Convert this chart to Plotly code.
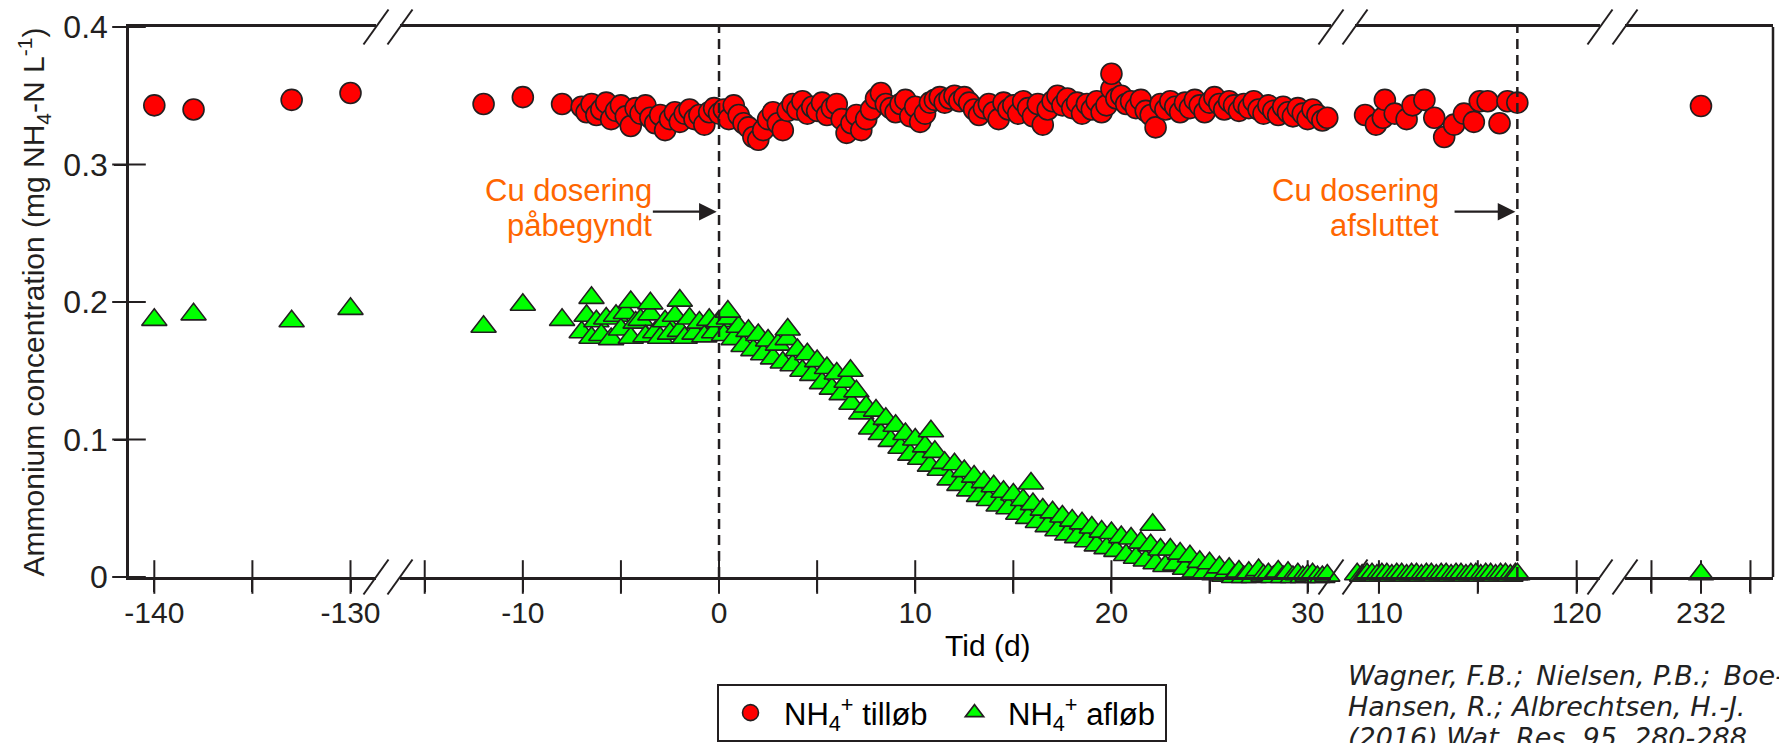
import plotly.graph_objects as go

# ---------------- data ----------------
# segment 1 (-141 .. -129)
s1_days = [-140, -138, -133, -130]
s1_inflow = [0.343, 0.340, 0.347, 0.352]
s1_outflow = [0.187, 0.191, 0.186, 0.195]

# segment 2 (-16 .. 31) sparse points before the dense campaign
s2_sparse_days = [-12, -10, -8]
s2_sparse_inflow = [0.344, 0.349, 0.344]
s2_sparse_outflow = [0.182, 0.198, 0.187]

# dense campaign, days -7 .. 31
s2_days = [
    -7.0, -6.75, -6.5, -6.25, -6.0, -5.75, -5.5, -5.25, -5.0, -4.75, -4.5, -4.25,
    -4.0, -3.75, -3.5, -3.25, -3.0, -2.75, -2.5, -2.25, -2.0, -1.75, -1.5, -1.25,
    -1.0, -0.75, -0.5, -0.25, 0.0, 0.25, 0.5, 0.75, 1.0, 1.25, 1.5, 1.75,
    2.0, 2.25, 2.5, 2.75, 3.0, 3.25, 3.5, 3.75, 4.0, 4.25, 4.5, 4.75,
    5.0, 5.25, 5.5, 5.75, 6.0, 6.25, 6.5, 6.75, 7.0, 7.25, 7.5, 7.75,
    8.0, 8.25, 8.5, 8.75, 9.0, 9.25, 9.5, 9.75, 10.0, 10.25, 10.5, 10.75,
    11.0, 11.25, 11.5, 11.75, 12.0, 12.25, 12.5, 12.75, 13.0, 13.25, 13.5, 13.75,
    14.0, 14.25, 14.5, 14.75, 15.0, 15.25, 15.5, 15.75, 16.0, 16.25, 16.5, 16.75,
    17.0, 17.25, 17.5, 17.75, 18.0, 18.25, 18.5, 18.75, 19.0, 19.25, 19.5, 19.75,
    20.0, 20.25, 20.5, 20.75, 21.0, 21.25, 21.5, 21.75, 22.0, 22.25, 22.5, 22.75,
    23.0, 23.25, 23.5, 23.75, 24.0, 24.25, 24.5, 24.75, 25.0, 25.25, 25.5, 25.75,
    26.0, 26.25, 26.5, 26.75, 27.0, 27.25, 27.5, 27.75, 28.0, 28.25, 28.5, 28.75,
    29.0, 29.25, 29.5, 29.75, 30.0, 30.25, 30.5, 30.75, 31.0,
]
s2_inflow = [
    0.342, 0.338, 0.344, 0.336, 0.340, 0.345, 0.333, 0.339, 0.343, 0.335, 0.328, 0.341,
    0.337, 0.343, 0.334, 0.330, 0.336, 0.325, 0.333, 0.338, 0.331, 0.337, 0.340, 0.333,
    0.336, 0.329, 0.338, 0.341, 0.337, 0.340, 0.333, 0.343, 0.336, 0.330, 0.327, 0.320,
    0.318, 0.325, 0.333, 0.338, 0.330, 0.325, 0.339, 0.344, 0.340, 0.346, 0.337, 0.342,
    0.339, 0.345, 0.336, 0.341, 0.344, 0.333, 0.323, 0.330, 0.336, 0.325, 0.333, 0.340,
    0.348, 0.352, 0.344, 0.341, 0.338, 0.344, 0.347, 0.335, 0.342, 0.331, 0.337, 0.345,
    0.347, 0.349, 0.345, 0.348, 0.350, 0.346, 0.349, 0.345, 0.340, 0.336, 0.341, 0.344,
    0.338, 0.333, 0.345, 0.340, 0.343, 0.337, 0.346, 0.341, 0.335, 0.344, 0.329, 0.340,
    0.346, 0.350, 0.343, 0.348, 0.341, 0.345, 0.337, 0.344, 0.340, 0.346, 0.338, 0.343,
    0.355, 0.348, 0.350, 0.344, 0.346, 0.341, 0.347, 0.339, 0.336, 0.327, 0.344, 0.340,
    0.346, 0.342, 0.338, 0.345, 0.341, 0.347, 0.343, 0.338, 0.345, 0.349, 0.344, 0.340,
    0.346, 0.343, 0.339, 0.344, 0.341, 0.346, 0.340, 0.337, 0.343, 0.339, 0.336, 0.342,
    0.338, 0.335, 0.341, 0.337, 0.333, 0.340, 0.336, 0.332, 0.334,
]
s2_outflow = [
    0.178, 0.190, 0.174, 0.186, 0.176, 0.188, 0.173, 0.190, 0.180, 0.192, 0.174, 0.185,
    0.187, 0.175, 0.191, 0.178, 0.174, 0.186, 0.177, 0.190, 0.179, 0.174, 0.188, 0.177,
    0.185, 0.175, 0.187, 0.178, 0.186, 0.176, 0.188, 0.173, 0.182, 0.168, 0.179, 0.165,
    0.176, 0.162, 0.172, 0.159, 0.169, 0.156, 0.173, 0.154, 0.165, 0.150, 0.162, 0.147,
    0.157, 0.141, 0.152, 0.137, 0.148, 0.133, 0.142, 0.126, 0.135, 0.119, 0.124, 0.108,
    0.121, 0.104, 0.115, 0.099, 0.110, 0.094, 0.104, 0.089, 0.100, 0.086, 0.095, 0.081,
    0.091, 0.078, 0.083, 0.071, 0.082, 0.067, 0.077, 0.063, 0.073, 0.059, 0.069, 0.056,
    0.066, 0.052, 0.062, 0.050, 0.060, 0.046, 0.056, 0.043, 0.053, 0.040, 0.049, 0.037,
    0.047, 0.034, 0.044, 0.031, 0.041, 0.029, 0.039, 0.026, 0.036, 0.023, 0.033, 0.021,
    0.032, 0.019, 0.029, 0.016, 0.028, 0.014, 0.025, 0.012, 0.023, 0.010, 0.020, 0.008,
    0.020, 0.009, 0.017, 0.006, 0.015, 0.004, 0.011, 0.003, 0.010, 0.002, 0.007, 0.001,
    0.006, 0.000, 0.004, 0.000, 0.003, 0.000, 0.005, 0.001, 0.002, 0.000, 0.004, 0.000,
    0.003, 0.000, 0.002, 0.000, 0.001, 0.002, 0.000, 0.000, 0.001,
]
# isolated high readings within the campaign
s2_inflow_extra_days = [20.0]
s2_inflow_extra = [0.366]
s2_outflow_extra_days = [-6.5, -4.5, -3.5, -2.0, 0.45, 3.5, 6.7, 10.8, 15.9, 22.1]
s2_outflow_extra = [0.203, 0.200, 0.199, 0.201, 0.193, 0.180, 0.150, 0.106, 0.068, 0.038]

# segment 3 (109 .. 121)
s3_inflow_days = [109.3, 109.85, 110.2, 110.3, 110.8, 111.4, 111.7, 112.3, 112.8,
                  113.3, 113.8, 114.3, 114.8, 115.1, 115.5, 116.1, 116.5, 117.0]
s3_inflow = [0.336, 0.329, 0.334, 0.347, 0.337, 0.333, 0.343, 0.347, 0.334,
             0.320, 0.329, 0.337, 0.331, 0.346, 0.346, 0.330, 0.346, 0.345]
s3_outflow_days = [108.9, 109.15, 109.4, 109.65, 109.9, 110.15, 110.4, 110.65, 110.9,
                   111.15, 111.4, 111.65, 111.9, 112.15, 112.4, 112.65, 112.9, 113.15,
                   113.4, 113.65, 113.9, 114.15, 114.4, 114.65, 114.9, 115.15, 115.4,
                   115.65, 115.9, 116.15, 116.4, 116.65, 116.9, 117.0]
s3_outflow = [0.002, 0.001, 0.002, 0.002, 0.001, 0.002, 0.002, 0.001, 0.002,
              0.002, 0.001, 0.002, 0.002, 0.001, 0.002, 0.002, 0.001, 0.002,
              0.002, 0.001, 0.002, 0.002, 0.001, 0.002, 0.002, 0.001, 0.002,
              0.002, 0.001, 0.002, 0.002, 0.001, 0.002, 0.002]

# segment 4 (229 .. 235)
s4_days = [232]
s4_inflow = [0.3425]
s4_outflow = [0.002]

# axis ticks (labelled major ticks + unlabelled minor ticks per segment)
seg1_ticks, seg1_minor = [-140, -130], [-135]
seg2_ticks, seg2_minor = [-10, 0, 10, 20, 30], [-15, -5, 5, 15, 25]
seg3_ticks, seg3_minor = [110, 120], [115]
seg4_ticks, seg4_minor = [232], [230, 234]
y_ticks = [0, 0.1, 0.2, 0.3, 0.4]
y_text = ["0", "0.1", "0.2", "0.3", "0.4"]

dosing_start = 0
dosing_end = 117

# ---------------- layout geometry ----------------
# The page body adds an 8 px offset, so the figure is 8 px smaller than the window.
OFF = 8
W, H = 1787 - OFF, 743 - OFF
ML, MR, MT, MB = 129 - OFF, 14, 27 - OFF, 166
PW = W - ML - MR
PH = H - MT - MB


def px_x(px):  # window pixel -> paper fraction
    return (px - OFF - ML) / PW


def px_y(py):
    return (H - MB - (py - OFF)) / PH


FONT = "Liberation Sans, Arial, sans-serif"
INK = "#231f20"
RED = "#ff0000"
GREEN = "#00ff00"
ORANGE = "#ff6600"

segments = [
    dict(dom=[0.0, px_x(376)], rng=[-141.29, -128.70], tv=seg1_ticks, mv=seg1_minor),
    dict(dom=[px_x(400), px_x(1331)], rng=[-16.26, 31.19], tv=seg2_ticks, mv=seg2_minor),
    dict(dom=[px_x(1355), px_x(1600)], rng=[108.79, 121.18], tv=seg3_ticks, mv=seg3_minor),
    dict(dom=[px_x(1625), 1.0], rng=[228.93, 234.91], tv=seg4_ticks, mv=seg4_minor),
]


def xref_of(k):
    return "x" if k == 0 else f"x{k + 1}"


fig = go.Figure()

# crossing tick marks (line markers centred on the axes)
for k, s in enumerate(segments):
    tv = s["tv"] + s["mv"]
    fig.add_trace(go.Scatter(
        x=tv, y=[y_ticks[0]] * len(tv), xaxis=xref_of(k), yaxis="y", mode="markers",
        showlegend=False, hoverinfo="skip", cliponaxis=False,
        marker=dict(symbol="line-ns", size=24, line=dict(width=2, color=INK)),
    ))
fig.add_trace(go.Scatter(
    x=[segments[0]["rng"][0]] * len(y_ticks), y=y_ticks, xaxis="x", yaxis="y",
    mode="markers", showlegend=False, hoverinfo="skip", cliponaxis=False,
    marker=dict(symbol="line-ew", size=24, line=dict(width=2, color=INK)),
))

inflow_sets = [
    (0, s1_days, s1_inflow),
    (1, s2_sparse_days + s2_days + s2_inflow_extra_days,
     s2_sparse_inflow + s2_inflow + s2_inflow_extra),
    (2, s3_inflow_days, s3_inflow),
    (3, s4_days, s4_inflow),
]
outflow_sets = [
    (0, s1_days, s1_outflow),
    (1, s2_sparse_days + s2_days + s2_outflow_extra_days,
     s2_sparse_outflow + s2_outflow + s2_outflow_extra),
    (2, s3_outflow_days, s3_outflow),
    (3, s4_days, s4_outflow),
]

for i, (k, xs, ys) in enumerate(inflow_sets):
    fig.add_trace(go.Scatter(
        x=xs, y=ys, xaxis=xref_of(k), yaxis="y",
        mode="markers", name="NH<sub>4</sub><sup>+</sup> tilløb",
        legendgroup="in", showlegend=(i == 0), cliponaxis=False,
        marker=dict(symbol="circle", size=21, color=RED,
                    line=dict(color=INK, width=1.6)),
    ))
for i, (k, xs, ys) in enumerate(outflow_sets):
    fig.add_trace(go.Scatter(
        x=xs, y=ys, xaxis=xref_of(k), yaxis="y",
        mode="markers", name="NH<sub>4</sub><sup>+</sup> afløb",
        legendgroup="out", showlegend=(i == 0), cliponaxis=False,
        marker=dict(symbol="triangle-up", size=22, color=GREEN,
                    line=dict(color=INK, width=1.6)),
    ))

layout = dict(
    width=W, height=H,
    margin=dict(l=ML, r=MR, t=MT, b=MB, pad=0, autoexpand=False),
    paper_bgcolor="white", plot_bgcolor="white",
    font=dict(family=FONT, size=30, color=INK),
    hovermode=False,
    showlegend=True,
    legend=dict(
        orientation="h", x=px_x(717), y=px_y(684), xanchor="left", yanchor="top",
        bordercolor=INK, borderwidth=2, bgcolor="white",
        font=dict(family=FONT, size=31, color="#000"),
        itemsizing="trace", tracegroupgap=0, itemwidth=57,
        entrywidth=152, entrywidthmode="pixels",
    ),
)

for k, s in enumerate(segments):
    name = "xaxis" if k == 0 else f"xaxis{k + 1}"
    layout[name] = dict(
        domain=s["dom"], range=s["rng"], anchor="y", showgrid=False, zeroline=False,
        tickmode="array", tickvals=s["tv"], ticktext=[str(v) for v in s["tv"]],
        tickfont=dict(family=FONT, size=30, color=INK),
        showline=True, linewidth=2.5, linecolor=INK, mirror=True,
        ticks="outside", ticklen=12, tickwidth=2, tickcolor=INK,
        ticklabelstandoff=-5, automargin=False,
        minor=dict(tickmode="array", tickvals=s["mv"], ticks="outside", ticklen=12,
                   tickwidth=2, tickcolor=INK, showgrid=False),
    )

layout["yaxis"] = dict(
    domain=[0, 1], range=[0, 0.4], anchor="x", showgrid=False, zeroline=False,
    showline=True, linewidth=2.5, linecolor=INK, ticks="outside", ticklen=12,
    tickwidth=2, tickcolor=INK, tickmode="array", tickvals=y_ticks, ticktext=y_text,
    tickfont=dict(family=FONT, size=32, color=INK),
    title=dict(text="Ammonium concentration (mg NH<sub>4</sub>-N L<sup>-1</sup>)",
               font=dict(family=FONT, size=30, color=INK), standoff=10),
    automargin=False,
)
fig.update_layout(**layout)

# ---------------- decorations ----------------
shapes = []
shapes.append(dict(type="line", xref="paper", yref="paper", x0=1, x1=1, y0=0, y1=1,
                   line=dict(color=INK, width=2.5)))
for cx in [376, 400, 1331, 1355, 1600, 1625]:
    for cy in [577, 27]:
        shapes.append(dict(type="line", xref="paper", yref="paper",
                           x0=px_x(cx - 12.5), y0=px_y(cy + 17.5),
                           x1=px_x(cx + 12.5), y1=px_y(cy - 17.5),
                           line=dict(color=INK, width=2)))
shapes.append(dict(type="line", xref="x2", yref="y", x0=dosing_start, x1=dosing_start,
                   y0=0, y1=0.4, line=dict(color=INK, width=2.5, dash="10px,6px")))
shapes.append(dict(type="line", xref="x3", yref="y", x0=dosing_end, x1=dosing_end,
                   y0=0, y1=0.4, line=dict(color=INK, width=2.5, dash="10px,6px")))
fig.update_layout(shapes=shapes)

ann = []
for txt, xr, cy in [("Cu dosering", 654, 190), ("påbegyndt", 654, 225),
                    ("Cu dosering", 1441, 190), ("afsluttet", 1441, 225)]:
    ann.append(dict(xref="paper", yref="paper", x=px_x(xr), y=px_y(cy), xanchor="right",
                    yanchor="middle", showarrow=False, text=txt,
                    font=dict(family=FONT, size=31, color=ORANGE)))
arrow_y = (577 - 211.7) / 1375
ann.append(dict(xref="x2", yref="y", x=-0.12, y=arrow_y, axref="x2", ayref="y",
                ax=-3.45, ay=arrow_y, text="", showarrow=True, arrowhead=2,
                arrowsize=1.6, arrowwidth=2.2, arrowcolor=INK))
ann.append(dict(xref="x3", yref="y", x=116.9, y=arrow_y, axref="x3", ayref="y",
                ax=113.75, ay=arrow_y, text="", showarrow=True, arrowhead=2,
                arrowsize=1.6, arrowwidth=2.2, arrowcolor=INK))
ann.append(dict(xref="paper", yref="paper", x=px_x(988), y=px_y(645), xanchor="center",
                yanchor="middle", showarrow=False, text="Tid (d)",
                font=dict(family=FONT, size=30, color="#000")))
SP = "\u2006"  # the first citation line is set justified in the source
cite = [f"Wagner, F.B.;{SP} Nielsen, P.B.;{SP} Boe-",
        "Hansen, R.; Albrechtsen, H.-J.",
        "(2016) Wat. Res. 95, 280-288"]
for line, cy in zip(cite, [675, 706.5, 737.5]):
    ann.append(dict(xref="paper", yref="paper", x=px_x(1346), y=px_y(cy), xanchor="left",
                    yanchor="middle", showarrow=False, text=f"<i>{line}</i>",
                    font=dict(family="DejaVu Sans, Verdana, sans-serif", size=27,
                              color="#222")))
fig.update_layout(annotations=ann)

fig.write_html("out.html")
